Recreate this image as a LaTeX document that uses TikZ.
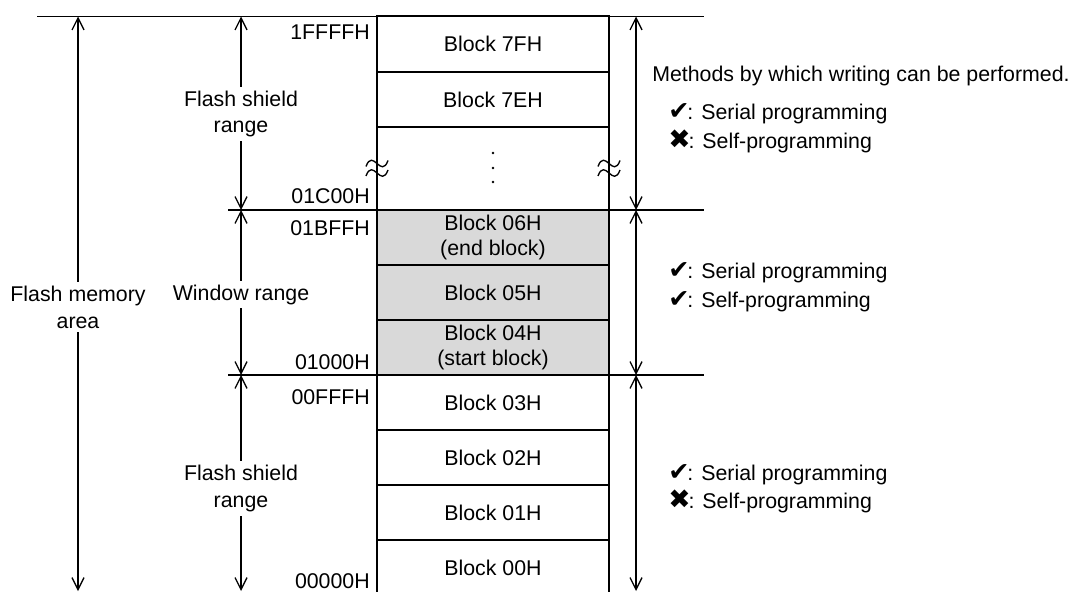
\documentclass[tikz,border=0pt]{standalone}
\usepackage{fontspec}
\setmainfont{Liberation Sans}
\newfontfamily\symf{DejaVu Sans}
\usetikzlibrary{arrows.meta}
\definecolor{blockgray}{RGB}{217,217,217}
\newcommand{\okmark}{{\symf\fontsize{19}{19}\selectfont ✔}\kern-1.5pt}
\newcommand{\ngmark}{{\symf\fontsize{20}{19}\selectfont ✖}\kern-1.5pt}
\begin{document}
\begin{tikzpicture}[x=0.75pt,y=-0.75pt,
  every node/.style={font=\fontsize{16}{18.5}\selectfont, inner sep=0pt},
  blk/.style={draw, line width=1.5pt, minimum width=174pt, align=center},
  shaded/.style={blk, fill=blockgray},
  dimline/.style={line width=1pt, {Straight Barb[length=9pt,width=9pt]}-{Straight Barb[length=9pt,width=9pt]}},
  refline/.style={line width=1.2pt},
  lab/.style={fill=white, inner sep=3pt, align=center, font=\fontsize{16}{20}\selectfont},
  addr/.style={anchor=base east},
  note/.style={anchor=base west},
  wave/.style={line width=1pt}
]
\useasboundingbox (0,0) rectangle (1072,592);

% blocks
\node[blk, minimum height=42pt]    (b7F) at (493,44)     {Block 7FH};
\node[blk, minimum height=41.25pt] (b7E) at (493,99.5)   {Block 7EH};
\node[blk, minimum height=62.25pt] (bdt) at (493,168.5)  {};
\node[shaded, minimum height=41.6pt] (b06) at (493,237.75) {Block 06H\\(end block)};
\node[shaded, minimum height=40.9pt] (b05) at (493,292.75) {Block 05H};
\node[shaded, minimum height=41.25pt] (b04) at (493,347.5) {Block 04H\\(start block)};
\node[blk, minimum height=41.25pt] (b03) at (493,402.5)  {Block 03H};
\node[blk, minimum height=41.25pt] (b02) at (493,457.5)  {Block 02H};
\node[blk, minimum height=41.25pt] (b01) at (493,512.5)  {Block 01H};
\node[blk, minimum height=42pt]    (b00) at (493,568)    {Block 00H};

% dots
\foreach \yy in {153,168,182} \fill (493,\yy) circle (1.1pt);

% wavy break marks
\foreach \xx in {377,609}{
  \foreach \yy in {163.5,173}{
    \draw[wave] (\xx-11,\yy+3) .. controls (\xx-4,\yy-16) and (\xx+4,\yy+16) .. (\xx+11,\yy-3);
  }
}

% reference lines
\coordinate (topL) at (37,16.5);
\coordinate (topR) at (704,16.5);
\coordinate (midAL) at (228,210);
\coordinate (midAR) at (704,210);
\coordinate (midBL) at (228,375);
\coordinate (midBR) at (704,375);
\draw[refline] (topL) -- (topR);
\draw[refline] (midAL) -- (midAR);
\draw[refline] (midBL) -- (midBR);

% dimension arrows
\coordinate (fmT) at (78,16.5);
\coordinate (fmB) at (78,591);
\coordinate (s1T) at (241,16.5);
\coordinate (s1B) at (241,210);
\coordinate (wT) at (241,210);
\coordinate (wB) at (241,375);
\coordinate (s2T) at (241,375);
\coordinate (s2B) at (241,591);
\coordinate (r1T) at (636,16.5);
\coordinate (r1B) at (636,210);
\coordinate (r2T) at (636,210);
\coordinate (r2B) at (636,375);
\coordinate (r3T) at (636,375);
\coordinate (r3B) at (636,591);
\draw[dimline] (fmT) -- (fmB);
\draw[dimline] (s1T) -- (s1B);
\draw[dimline] (wT) -- (wB);
\draw[dimline] (s2T) -- (s2B);
\draw[dimline] (r1T) -- (r1B);
\draw[dimline] (r2T) -- (r2B);
\draw[dimline] (r3T) -- (r3B);

% range labels
\node[lab] (lfm) at (78,307.2)  {Flash memory\\area};
\node[lab] (ls1) at (241,114)   {Flash shield\\range};
\node[lab, anchor=base] (lw) at (241,300) {Window range};
\node[lab] (ls2) at (241,488.5) {Flash shield\\range};

% addresses
\node[addr] (a1) at (370,40)  {1FFFFH};
\node[addr] (a2) at (370,203) {01C00H};
\node[addr] (a3) at (370,235) {01BFFH};
\node[addr] (a4) at (370,369) {01000H};
\node[addr] (a5) at (370,404) {00FFFH};
\node[addr] (a6) at (370,588.5) {00000H};

% notes
\node[note] (n0) at (652,82)  {Methods by which writing can be performed.};
\node[note] (n1) at (668,120) {\okmark: Serial programming};
\node[note] (n2) at (668,148) {\ngmark: Self-programming};
\node[note] (n3) at (668,278) {\okmark: Serial programming};
\node[note] (n4) at (668,307) {\okmark: Self-programming};
\node[note] (n5) at (668,480) {\okmark: Serial programming};
\node[note] (n6) at (668,508) {\ngmark: Self-programming};
\end{tikzpicture}
\end{document}
